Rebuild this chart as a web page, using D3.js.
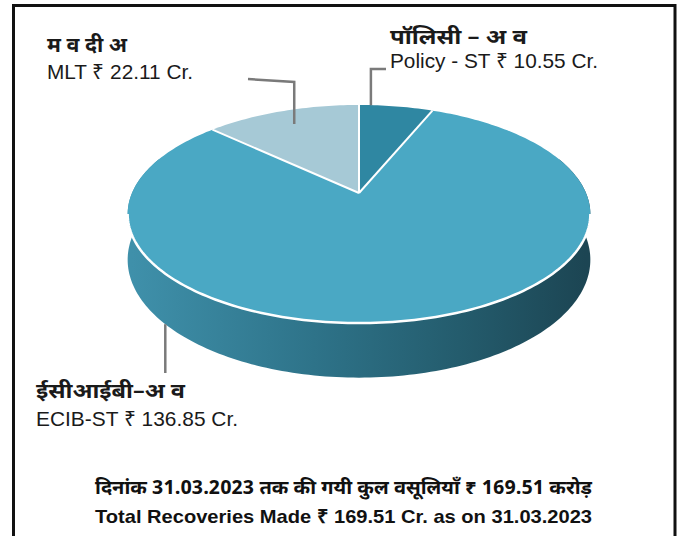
<!DOCTYPE html>
<html>
<head>
<meta charset="utf-8">
<script src="https://cdn.jsdelivr.net/npm/d3@7"></script>
<style>
  html, body { margin: 0; padding: 0; background: #fff; }
  svg { display: block; }
</style>
</head>
<body>
<div id="chart"></div>
<script>
// data
const categories = ["Policy - ST", "ECIB-ST", "MLT"];
const hindiNames = ["पॉलिसी – अ व", "ईसीआईबी–अ व", "म व दी अ"];
const values = [10.55, 136.85, 22.11];
const valueLabels = ["Policy - ST ₹ 10.55 Cr.", "ECIB-ST ₹ 136.85 Cr.", "MLT ₹ 22.11 Cr."];
const sliceColors = ["#2f87a2", "#4aa8c4", "#a6c9d6"];
const footerLines = [
  "दिनांक 31.03.2023 तक की गयी कुल वसूलियाँ ₹ 169.51 करोड़",
  "Total Recoveries Made ₹ 169.51 Cr. as on 31.03.2023"
];

const w = 686, h = 536;

// 3d pie geometry (projected disk with a little perspective)
const cx = 359, cy = 193;
const rx = 227, ry = 105;
const persp = 0.193;
const depth = 44;

function project(r, a) {
  const d = 1 + persp * r * Math.cos(a);
  return [cx + rx * r * Math.sin(a) / d, cy - ry * r * Math.cos(a) / d];
}

function projectBottom(a) {
  const p = project(1, a);
  return [p[0], p[1] + depth / (1 + persp * Math.cos(a))];
}

function arcPoints(a0, a1, fn) {
  const n = Math.max(2, Math.ceil(Math.abs(a1 - a0) / 0.02));
  return d3.range(n + 1).map((i) => fn(a0 + (a1 - a0) * i / n));
}

const svg = d3.select("#chart")
  .append("svg")
  .attr("width", w)
  .attr("height", h);

const defs = svg.append("defs");
const grad = defs.append("linearGradient")
  .attr("id", "sideGrad")
  .attr("gradientUnits", "userSpaceOnUse")
  .attr("x1", cx - rx).attr("y1", 0)
  .attr("x2", cx + rx).attr("y2", 0);
[["0%", "#3f90aa"], ["40%", "#2e7389"], ["72%", "#245c6d"], ["100%", "#1c4553"]]
  .forEach(([o, c]) => grad.append("stop").attr("offset", o).attr("stop-color", c));

// frame
svg.append("rect")
  .attr("x", 13.5).attr("y", 5.5)
  .attr("width", 661.5).attr("height", 545)
  .attr("fill", "none")
  .attr("stroke", "#111")
  .attr("stroke-width", 3);

const pie = d3.pie().sort(null).startAngle(0).endAngle(2 * Math.PI);
const arcs = pie(values);
const line = d3.line();

// side walls (front half only is visible)
const frontMin = 70 * Math.PI / 180, frontMax = 290 * Math.PI / 180;
const g = svg.append("g");

arcs.forEach((d) => {
  const a0 = Math.max(d.startAngle, frontMin);
  const a1 = Math.min(d.endAngle, frontMax);
  if (a1 <= a0) return;
  const top = arcPoints(a0, a1, (a) => project(1, a));
  const bottom = arcPoints(a1, a0, projectBottom);
  g.append("path")
    .attr("d", line(top.concat(bottom)) + "Z")
    .attr("fill", "url(#sideGrad)");
});

// top face
arcs.forEach((d, i) => {
  const pts = [project(0, 0)].concat(arcPoints(d.startAngle, d.endAngle, (a) => project(1, a)));
  g.append("path")
    .attr("d", line(pts) + "Z")
    .attr("fill", sliceColors[i]);
});

// slice separators
arcs.forEach((d) => {
  g.append("path")
    .attr("d", line([project(0, 0), project(1, d.startAngle)]))
    .attr("stroke", "#fff")
    .attr("stroke-width", 2)
    .attr("fill", "none");
});

// white rim along the front edge
const rimA = Math.acos(-persp);
g.append("path")
  .attr("d", line(arcPoints(rimA, 2 * Math.PI - rimA, (a) => project(1, a))))
  .attr("stroke", "#fff")
  .attr("stroke-width", 2.5)
  .attr("fill", "none");

// labels with leader lines
const labelLayout = [
  { anchor: (d) => project(1, d.startAngle + 0.16 * (d.endAngle - d.startAngle)), elbowY: 69, endX: 386,
    x: 390, hindiY: 44, engY: 68, hindiW: 137, engW: 208 },
  { anchor: () => projectBottom(228 * Math.PI / 180), elbowY: null, endY: 373,
    x: 36, hindiY: 398, engY: 426, hindiW: 149, engW: 202 },
  { anchor: (d) => project(0.82, (d.startAngle + d.endAngle) / 2), elbowY: 82, endX: 248, endY: 79,
    x: 47, hindiY: 52, engY: 79, hindiW: 80, engW: 146 }
];

arcs.forEach((d, i) => {
  const L = labelLayout[i];
  const p = L.anchor(d);
  let pts;
  if (L.elbowY === null) {
    pts = [p, [p[0], L.endY]];
  } else {
    pts = [p, [p[0], L.elbowY], [L.endX, L.endY != null ? L.endY : L.elbowY]];
  }
  svg.append("path")
    .attr("d", line(pts))
    .attr("stroke", "#7a7a7a")
    .attr("stroke-width", 2.5)
    .attr("fill", "none");

  svg.append("text")
    .attr("x", L.x).attr("y", L.hindiY)
    .attr("textLength", L.hindiW)
    .attr("lengthAdjust", "spacingAndGlyphs")
    .style("font-family", "'Noto Sans Devanagari', 'Noto Sans', sans-serif")
    .style("font-size", "20px")
    .style("font-weight", "700")
    .style("fill", "#1a1a1a")
    .text(hindiNames[i]);

  svg.append("text")
    .attr("x", L.x).attr("y", L.engY)
    .attr("textLength", L.engW)
    .attr("lengthAdjust", "spacingAndGlyphs")
    .style("font-family", "'Liberation Sans', Arial, sans-serif")
    .style("font-size", "21px")
    .style("fill", "#1a1a1a")
    .text(valueLabels[i]);
});

// footer
const footerY = [494, 523];
footerLines.forEach((t, i) => {
  svg.append("text")
    .attr("x", 343.5).attr("y", footerY[i])
    .attr("text-anchor", "middle")
    .attr("textLength", 497)
    .attr("lengthAdjust", "spacingAndGlyphs")
    .style("font-family", i === 0 ? "'Noto Sans Devanagari', 'Noto Sans', sans-serif" : "'Liberation Sans', Arial, sans-serif")
    .style("font-size", "19px")
    .style("font-weight", "700")
    .style("fill", "#111")
    .text(t);
});
</script>
</body>
</html>
